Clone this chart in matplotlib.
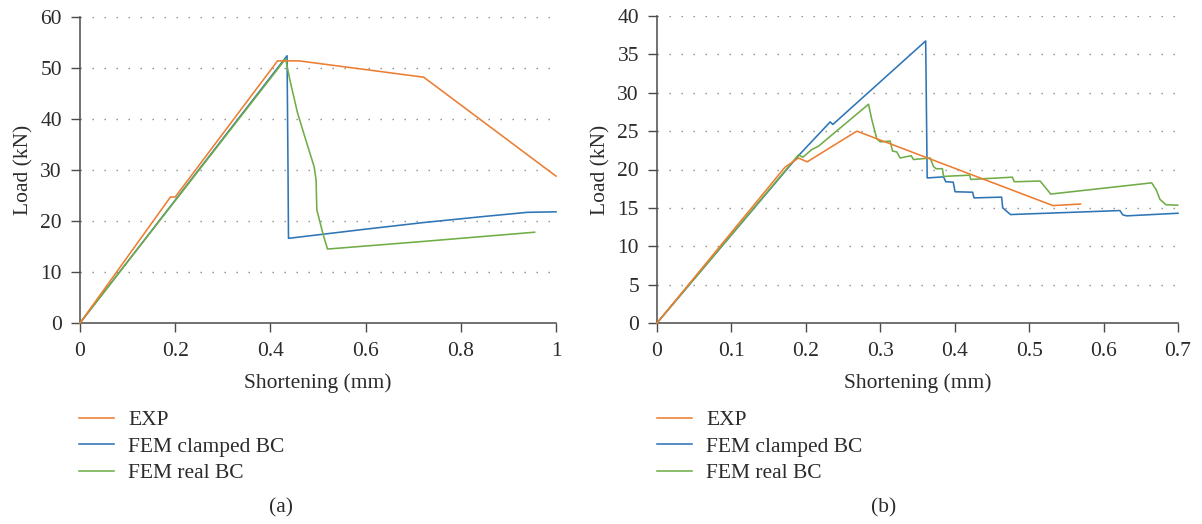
import matplotlib
matplotlib.use("Agg")
import matplotlib.pyplot as plt

# Panel (a)
a_exp_x = [0, 0.19, 0.2, 0.415, 0.46, 0.722, 1.0]
a_exp_y = [0, 24.7, 24.7, 51.4, 51.4, 48.2, 28.8]
a_clamped_x = [0, 0.435, 0.437, 0.438, 0.6, 0.722, 0.85, 0.94, 1.0]
a_clamped_y = [0, 52.4, 30.0, 16.6, 18.4, 19.7, 20.9, 21.7, 21.8]
a_real_x = [0, 0.432, 0.441, 0.457, 0.473, 0.492, 0.496, 0.4975, 0.511, 0.52, 0.722, 0.955]
a_real_y = [0, 51.8, 47.6, 41.2, 36.3, 30.6, 28.0, 22.2, 17.3, 14.5, 16.0, 17.8]

# Panel (b)
b_exp_x = [0, 0.172, 0.19, 0.2018, 0.2685, 0.532, 0.569]
b_exp_y = [0, 20.3, 21.5, 21.0, 25.0, 15.3, 15.5]
b_clamped_x = [0, 0.19, 0.2327, 0.2363, 0.361, 0.363, 0.385, 0.388, 0.398, 0.4005,
               0.424, 0.426, 0.463, 0.4645, 0.475, 0.622, 0.6257, 0.631, 0.7]
b_clamped_y = [0, 21.8, 26.2, 25.87, 36.75, 18.9, 19.04, 18.4, 18.35, 17.1,
               17.04, 16.3, 16.4, 15.0, 14.13, 14.65, 14.1, 13.96, 14.3]
b_real_x = [0, 0.19, 0.196, 0.208, 0.217, 0.2842, 0.2886, 0.2953, 0.3, 0.3133,
            0.3164, 0.322, 0.3267, 0.3415, 0.3446, 0.367, 0.3714, 0.375, 0.3835,
            0.385, 0.42, 0.4216, 0.4775, 0.48, 0.5147, 0.5223, 0.529, 0.6646,
            0.6705, 0.6758, 0.684, 0.6996]
b_real_y = [0, 21.9, 21.6, 22.6, 23.04, 28.5, 26.5, 24.0, 23.6, 23.7,
            22.4, 22.3, 21.5, 21.8, 21.3, 21.5, 20.4, 20.1, 20.1,
            19.1, 19.26, 18.7, 19.0, 18.4, 18.5, 17.6, 16.8, 18.26,
            17.4, 16.1, 15.4, 15.35]

labels = ["EXP", "FEM clamped BC", "FEM real BC"]
colors = ["#ED7D31", "#2E75B6", "#70AD47"]

a_xticks = [0, 0.2, 0.4, 0.6, 0.8, 1]
a_xticklabels = ["0", "0.2", "0.4", "0.6", "0.8", "1"]
a_yticks = [0, 10, 20, 30, 40, 50, 60]
b_xticks = [0, 0.1, 0.2, 0.3, 0.4, 0.5, 0.6, 0.7]
b_xticklabels = ["0", "0.1", "0.2", "0.3", "0.4", "0.5", "0.6", "0.7"]
b_yticks = [0, 5, 10, 15, 20, 25, 30, 35, 40]

plt.rcParams['font.family'] = ['Liberation Serif', 'DejaVu Serif']
plt.rcParams['lines.scale_dashes'] = False

fig = plt.figure(figsize=(12.02, 5.24), dpi=100)
axis_col = '#4a4a4a'
txt_col = '#2b2b2b'
fs = 15.5


def style(ax, xticks, xlabels, yticks, xmax, ymax):
    ax.set_xlim(0, xmax)
    ax.set_ylim(0, ymax)
    ax.set_xticks(xticks)
    ax.set_xticklabels(xlabels)
    ax.set_yticks(yticks)
    for s in ['top', 'right']:
        ax.spines[s].set_visible(False)
    for s in ['left', 'bottom']:
        ax.spines[s].set_color(axis_col)
        ax.spines[s].set_linewidth(1.1)
    ax.tick_params(direction='out', length=6.5, width=1.0, color=axis_col,
                   labelsize=fs, labelcolor=txt_col)
    ax.tick_params(axis='x', pad=7)
    ax.tick_params(axis='y', pad=6.5)
    ax.yaxis.grid(True, color='#8a8a8a', linewidth=1.0, linestyle=(0, (1.0, 7.64)))
    ax.set_axisbelow(True)
    ax.set_xlabel("Shortening (mm)", fontsize=fs, color=txt_col, labelpad=9)
    ax.set_ylabel("Load (kN)", fontsize=fs, color=txt_col, labelpad=5)


ax1 = fig.add_axes([80 / 1202, 201 / 524, 476 / 1202, 306 / 524])
ax2 = fig.add_axes([657 / 1202, 201 / 524, 521 / 1202, 307 / 524])

for ax, xs, ys in [(ax1, [a_exp_x, a_clamped_x, a_real_x], [a_exp_y, a_clamped_y, a_real_y]),
                   (ax2, [b_exp_x, b_clamped_x, b_real_x], [b_exp_y, b_clamped_y, b_real_y])]:
    zs = [4, 2, 3]
    for x, y, c, lab, z in zip(xs, ys, colors, labels, zs):
        ax.plot(x, y, color=c, linewidth=1.15, label=lab, zorder=z, clip_on=False)

style(ax1, a_xticks, a_xticklabels, a_yticks, 1, 60)
style(ax2, b_xticks, b_xticklabels, b_yticks, 0.7, 40)

for ax, lx in [(ax1, 79 / 1202), (ax2, 657 / 1202)]:
    h, l = ax.get_legend_handles_labels()
    fig.legend(h, l, loc='upper left', bbox_to_anchor=(lx, 1 - 410 / 524),
               frameon=False, handlelength=1.63, handletextpad=0.65,
               labelspacing=0.3, borderpad=0, borderaxespad=0,
               prop={'family': ['Liberation Serif'], 'size': fs},
               labelcolor=txt_col)

fig.text(281 / 1202, 1 - 508 / 524, "(a)", ha='center', va='center', fontsize=fs, color=txt_col)
fig.text(884 / 1202, 1 - 508 / 524, "(b)", ha='center', va='center', fontsize=fs, color=txt_col)

fig.savefig("out.png", dpi=100)
